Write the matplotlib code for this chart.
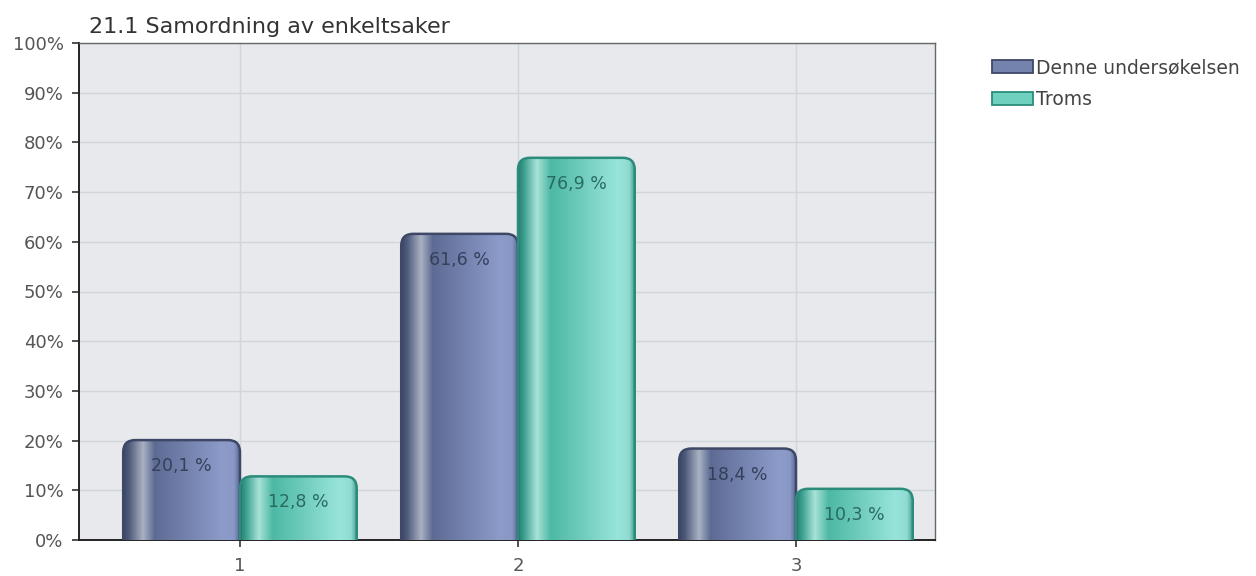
import numpy as np
import matplotlib
matplotlib.use("Agg")
import matplotlib.pyplot as plt
from matplotlib.colors import LinearSegmentedColormap
from matplotlib.patches import FancyBboxPatch, Patch

# data
categories = ["1", "2", "3"]
denne = [20.1, 61.6, 18.4]
troms = [12.8, 76.9, 10.3]
series_names = ["Denne undersøkelsen", "Troms"]
title = "21.1 Samordning av enkeltsaker"

plt.rcParams["font.family"] = ["DejaVu Sans"]

blue_cmap = LinearSegmentedColormap.from_list("blue", [
    (0.0, "#3a4664"), (0.05, "#4e5a7a"), (0.17, "#a9b1c2"),
    (0.27, "#5d6b94"), (0.85, "#8d9bca"), (0.95, "#8a98c6"), (1.0, "#5c6894")])
teal_cmap = LinearSegmentedColormap.from_list("teal", [
    (0.0, "#287c6e"), (0.05, "#3aa090"), (0.16, "#a8e2d8"),
    (0.28, "#4db8a5"), (0.85, "#98e4da"), (0.95, "#90dcd2"), (1.0, "#4aa090")])

styles = [
    dict(cmap=blue_cmap, edge="#3e4866", label_col="#34405a", face="#7383ad"),
    dict(cmap=teal_cmap, edge="#2b8c7c", label_col="#2a6b60", face="#6fd0bf"),
]

fig = plt.figure(figsize=(12.56, 5.76), dpi=100)
ax = fig.add_axes([79 / 1256, 1 - 540 / 576, 856 / 1256, 497 / 576])
ax.set_facecolor("#e7e9ec")

x = np.arange(1, len(categories) + 1)
width = 0.42
xlim = (0.421, 3.5)
ylim = (0, 100)
ax.set_xlim(*xlim)
ax.set_ylim(*ylim)

# rounding in pixels converted to data units
px_x = 856 / (xlim[1] - xlim[0])
px_y = 497 / (ylim[1] - ylim[0])
r_x = 12 / px_x
aspect = px_x / px_y

grad = np.linspace(0, 1, 256).reshape(1, -1)

for vals, offset, st in [(denne, -width / 2, styles[0]), (troms, width / 2, styles[1])]:
    bars = ax.bar(x + offset, vals, width=width, color="none", edgecolor="none", zorder=2)
    for b, v in zip(bars, vals):
        x0 = b.get_x()
        w = b.get_width()
        h = b.get_height()
        patch = FancyBboxPatch((x0, -5), w, h + 5,
                               boxstyle=f"round,pad=0,rounding_size={r_x}",
                               mutation_aspect=aspect,
                               facecolor="none", edgecolor=st["edge"], linewidth=1.8,
                               zorder=4, clip_on=True)
        ax.add_patch(patch)
        im = ax.imshow(grad, cmap=st["cmap"], extent=(x0, x0 + w, 0, h),
                       aspect="auto", zorder=3, interpolation="bilinear")
        im.set_clip_path(patch)
        ax.annotate(f"{v:.1f} %".replace(".", ","), (x0 + w / 2, h),
                    xytext=(0, -26), textcoords="offset pixels",
                    ha="center", va="center", fontsize=12.5,
                    color=st["label_col"], zorder=5)

ax.set_xlim(*xlim)
ax.set_ylim(*ylim)

ax.set_yticks(np.arange(0, 101, 10))
ax.set_yticklabels([f"{t}%" for t in range(0, 101, 10)])
ax.set_xticks(x)
ax.set_xticklabels(categories)
ax.tick_params(axis="both", labelsize=13, colors="#333333", labelcolor="#555555",
               length=5, width=1.2, direction="out")
ax.tick_params(axis="x", pad=7)
ax.tick_params(axis="y", pad=6)

ax.grid(True, color="#d2d5da", linewidth=1, zorder=0)
ax.set_axisbelow(True)

for side in ["left", "bottom"]:
    ax.spines[side].set_color("#222222")
    ax.spines[side].set_linewidth(1.4)
for side in ["top", "right"]:
    ax.spines[side].set_color("#666666")
    ax.spines[side].set_linewidth(1)

ax.text(0.012, 1.012, title, transform=ax.transAxes, fontsize=16,
        color="#333333", ha="left", va="bottom")

handles = [Patch(facecolor=st["face"], edgecolor=st["edge"], linewidth=1.3) for st in styles]
ax.legend(handles, series_names, loc="upper left", bbox_to_anchor=(1.058, 0.985),
          frameon=False, fontsize=13.5, handlelength=2.2, handleheight=0.75,
          handletextpad=0.15, labelspacing=0.7, borderaxespad=0,
          labelcolor="#444444")

fig.savefig("out.png", dpi=100)
